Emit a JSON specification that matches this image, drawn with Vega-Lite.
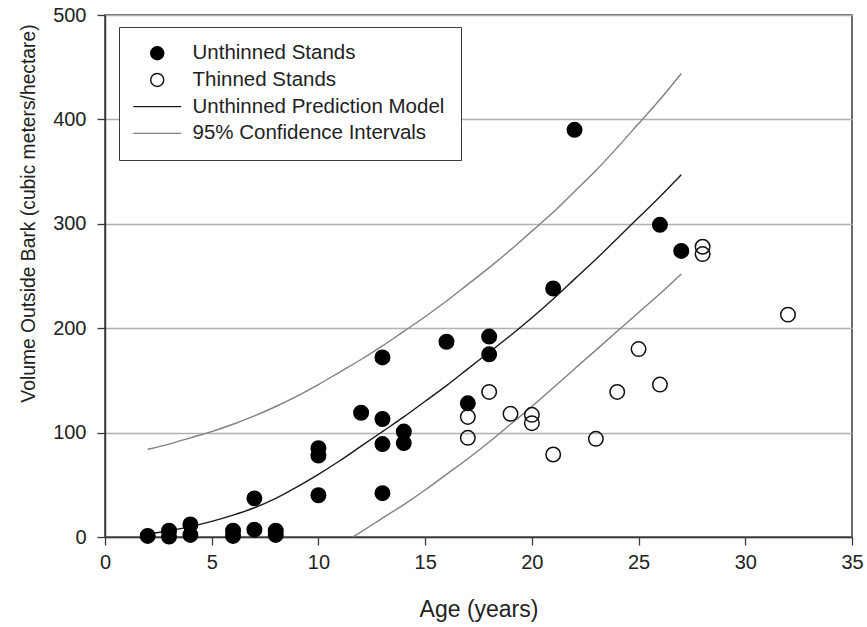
{
  "$schema": "https://vega.github.io/schema/vega-lite/v6.json",
  "width": 747,
  "height": 522,
  "autosize": {"type": "none"},
  "padding": {"left": 105, "top": 15, "right": 15, "bottom": 90},
  "background": "white",
  "config": {
    "font": "Liberation Sans",
    "view": {"stroke": "#3a3a3a", "strokeWidth": 1.5},
    "axis": {
      "domainColor": "#3a3a3a",
      "domainWidth": 1.5,
      "tickColor": "#3a3a3a",
      "tickWidth": 1.3,
      "tickSize": 8,
      "labelFontSize": 20,
      "labelColor": "#222222",
      "titleFontWeight": "normal",
      "titleColor": "#222222",
      "labelFlush": false
    },
    "legend": {
      "orient": "none",
      "legendX": 14,
      "legendY": 12,
      "padding": 16,
      "rowPadding": 5.7,
      "strokeColor": "#3a3a3a",
      "fillColor": "white",
      "labelFontSize": 20.5,
      "labelColor": "#222222",
      "labelLimit": 400,
      "symbolSize": 169,
      "symbolStrokeWidth": 1.4,
      "symbolOffset": 12,
      "labelOffset": 25,
      "symbolOpacity": 1
    }
  },
  "datasets": {
    "points": [
      {"age": 2, "vol": 1, "series": "Unthinned Stands"},
      {"age": 3, "vol": 6, "series": "Unthinned Stands"},
      {"age": 3, "vol": 0.5, "series": "Unthinned Stands"},
      {"age": 4, "vol": 12, "series": "Unthinned Stands"},
      {"age": 4, "vol": 2, "series": "Unthinned Stands"},
      {"age": 6, "vol": 6, "series": "Unthinned Stands"},
      {"age": 6, "vol": 1, "series": "Unthinned Stands"},
      {"age": 7, "vol": 37, "series": "Unthinned Stands"},
      {"age": 7, "vol": 7, "series": "Unthinned Stands"},
      {"age": 8, "vol": 6, "series": "Unthinned Stands"},
      {"age": 8, "vol": 2, "series": "Unthinned Stands"},
      {"age": 10, "vol": 85, "series": "Unthinned Stands"},
      {"age": 10, "vol": 78, "series": "Unthinned Stands"},
      {"age": 10, "vol": 40, "series": "Unthinned Stands"},
      {"age": 12, "vol": 119, "series": "Unthinned Stands"},
      {"age": 13, "vol": 172, "series": "Unthinned Stands"},
      {"age": 13, "vol": 113, "series": "Unthinned Stands"},
      {"age": 13, "vol": 89, "series": "Unthinned Stands"},
      {"age": 13, "vol": 42, "series": "Unthinned Stands"},
      {"age": 14, "vol": 101, "series": "Unthinned Stands"},
      {"age": 14, "vol": 90, "series": "Unthinned Stands"},
      {"age": 16, "vol": 187, "series": "Unthinned Stands"},
      {"age": 17, "vol": 128, "series": "Unthinned Stands"},
      {"age": 18, "vol": 192, "series": "Unthinned Stands"},
      {"age": 18, "vol": 175, "series": "Unthinned Stands"},
      {"age": 21, "vol": 238, "series": "Unthinned Stands"},
      {"age": 22, "vol": 390, "series": "Unthinned Stands"},
      {"age": 26, "vol": 299, "series": "Unthinned Stands"},
      {"age": 27, "vol": 274, "series": "Unthinned Stands"},
      {"age": 17, "vol": 115, "series": "Thinned Stands"},
      {"age": 17, "vol": 95, "series": "Thinned Stands"},
      {"age": 18, "vol": 139, "series": "Thinned Stands"},
      {"age": 19, "vol": 118, "series": "Thinned Stands"},
      {"age": 20, "vol": 117, "series": "Thinned Stands"},
      {"age": 20, "vol": 109, "series": "Thinned Stands"},
      {"age": 21, "vol": 79, "series": "Thinned Stands"},
      {"age": 23, "vol": 94, "series": "Thinned Stands"},
      {"age": 24, "vol": 139, "series": "Thinned Stands"},
      {"age": 25, "vol": 180, "series": "Thinned Stands"},
      {"age": 26, "vol": 146, "series": "Thinned Stands"},
      {"age": 28, "vol": 278, "series": "Thinned Stands"},
      {"age": 28, "vol": 271, "series": "Thinned Stands"},
      {"age": 32, "vol": 213, "series": "Thinned Stands"}
    ],
    "curves": [
      {"age": 2, "vol": 3, "curve": "pred", "series": "Unthinned Prediction Model"},
      {"age": 3, "vol": 6, "curve": "pred", "series": "Unthinned Prediction Model"},
      {"age": 4, "vol": 10, "curve": "pred", "series": "Unthinned Prediction Model"},
      {"age": 5, "vol": 15, "curve": "pred", "series": "Unthinned Prediction Model"},
      {"age": 6, "vol": 21, "curve": "pred", "series": "Unthinned Prediction Model"},
      {"age": 7, "vol": 28, "curve": "pred", "series": "Unthinned Prediction Model"},
      {"age": 8, "vol": 37, "curve": "pred", "series": "Unthinned Prediction Model"},
      {"age": 9, "vol": 48, "curve": "pred", "series": "Unthinned Prediction Model"},
      {"age": 10, "vol": 60, "curve": "pred", "series": "Unthinned Prediction Model"},
      {"age": 11, "vol": 73, "curve": "pred", "series": "Unthinned Prediction Model"},
      {"age": 12, "vol": 87, "curve": "pred", "series": "Unthinned Prediction Model"},
      {"age": 13, "vol": 101, "curve": "pred", "series": "Unthinned Prediction Model"},
      {"age": 14, "vol": 115, "curve": "pred", "series": "Unthinned Prediction Model"},
      {"age": 15, "vol": 130, "curve": "pred", "series": "Unthinned Prediction Model"},
      {"age": 16, "vol": 145, "curve": "pred", "series": "Unthinned Prediction Model"},
      {"age": 17, "vol": 161, "curve": "pred", "series": "Unthinned Prediction Model"},
      {"age": 18, "vol": 177, "curve": "pred", "series": "Unthinned Prediction Model"},
      {"age": 19, "vol": 193, "curve": "pred", "series": "Unthinned Prediction Model"},
      {"age": 20, "vol": 210, "curve": "pred", "series": "Unthinned Prediction Model"},
      {"age": 21, "vol": 228, "curve": "pred", "series": "Unthinned Prediction Model"},
      {"age": 22, "vol": 247, "curve": "pred", "series": "Unthinned Prediction Model"},
      {"age": 23, "vol": 266, "curve": "pred", "series": "Unthinned Prediction Model"},
      {"age": 24, "vol": 286, "curve": "pred", "series": "Unthinned Prediction Model"},
      {"age": 25, "vol": 306, "curve": "pred", "series": "Unthinned Prediction Model"},
      {"age": 26, "vol": 326, "curve": "pred", "series": "Unthinned Prediction Model"},
      {"age": 27, "vol": 347, "curve": "pred", "series": "Unthinned Prediction Model"},
      {"age": 2, "vol": 84, "curve": "upper", "series": "95% Confidence Intervals"},
      {"age": 3, "vol": 89, "curve": "upper", "series": "95% Confidence Intervals"},
      {"age": 4, "vol": 95, "curve": "upper", "series": "95% Confidence Intervals"},
      {"age": 5, "vol": 101, "curve": "upper", "series": "95% Confidence Intervals"},
      {"age": 6, "vol": 108, "curve": "upper", "series": "95% Confidence Intervals"},
      {"age": 7, "vol": 116, "curve": "upper", "series": "95% Confidence Intervals"},
      {"age": 8, "vol": 125, "curve": "upper", "series": "95% Confidence Intervals"},
      {"age": 9, "vol": 135, "curve": "upper", "series": "95% Confidence Intervals"},
      {"age": 10, "vol": 146, "curve": "upper", "series": "95% Confidence Intervals"},
      {"age": 11, "vol": 158, "curve": "upper", "series": "95% Confidence Intervals"},
      {"age": 12, "vol": 170, "curve": "upper", "series": "95% Confidence Intervals"},
      {"age": 13, "vol": 183, "curve": "upper", "series": "95% Confidence Intervals"},
      {"age": 14, "vol": 197, "curve": "upper", "series": "95% Confidence Intervals"},
      {"age": 15, "vol": 211, "curve": "upper", "series": "95% Confidence Intervals"},
      {"age": 16, "vol": 226, "curve": "upper", "series": "95% Confidence Intervals"},
      {"age": 17, "vol": 242, "curve": "upper", "series": "95% Confidence Intervals"},
      {"age": 18, "vol": 258, "curve": "upper", "series": "95% Confidence Intervals"},
      {"age": 19, "vol": 275, "curve": "upper", "series": "95% Confidence Intervals"},
      {"age": 20, "vol": 293, "curve": "upper", "series": "95% Confidence Intervals"},
      {"age": 21, "vol": 311, "curve": "upper", "series": "95% Confidence Intervals"},
      {"age": 22, "vol": 331, "curve": "upper", "series": "95% Confidence Intervals"},
      {"age": 23, "vol": 351, "curve": "upper", "series": "95% Confidence Intervals"},
      {"age": 24, "vol": 373, "curve": "upper", "series": "95% Confidence Intervals"},
      {"age": 25, "vol": 396, "curve": "upper", "series": "95% Confidence Intervals"},
      {"age": 26, "vol": 419, "curve": "upper", "series": "95% Confidence Intervals"},
      {"age": 27, "vol": 444, "curve": "upper", "series": "95% Confidence Intervals"},
      {"age": 11.6, "vol": 0, "curve": "lower", "series": "95% Confidence Intervals"},
      {"age": 12, "vol": 5, "curve": "lower", "series": "95% Confidence Intervals"},
      {"age": 13, "vol": 18, "curve": "lower", "series": "95% Confidence Intervals"},
      {"age": 14, "vol": 31, "curve": "lower", "series": "95% Confidence Intervals"},
      {"age": 15, "vol": 45, "curve": "lower", "series": "95% Confidence Intervals"},
      {"age": 16, "vol": 60, "curve": "lower", "series": "95% Confidence Intervals"},
      {"age": 17, "vol": 75, "curve": "lower", "series": "95% Confidence Intervals"},
      {"age": 18, "vol": 91, "curve": "lower", "series": "95% Confidence Intervals"},
      {"age": 19, "vol": 108, "curve": "lower", "series": "95% Confidence Intervals"},
      {"age": 20, "vol": 125, "curve": "lower", "series": "95% Confidence Intervals"},
      {"age": 21, "vol": 143, "curve": "lower", "series": "95% Confidence Intervals"},
      {"age": 22, "vol": 161, "curve": "lower", "series": "95% Confidence Intervals"},
      {"age": 23, "vol": 179, "curve": "lower", "series": "95% Confidence Intervals"},
      {"age": 24, "vol": 197, "curve": "lower", "series": "95% Confidence Intervals"},
      {"age": 25, "vol": 215, "curve": "lower", "series": "95% Confidence Intervals"},
      {"age": 26, "vol": 233, "curve": "lower", "series": "95% Confidence Intervals"},
      {"age": 27, "vol": 252, "curve": "lower", "series": "95% Confidence Intervals"}
    ]
  },
  "encoding": {
    "x": {
      "field": "age",
      "type": "quantitative",
      "scale": {"domain": [0, 35], "nice": false, "zero": false},
      "axis": {
        "title": "Age (years)",
        "titleFontSize": 23,
        "values": [0, 5, 10, 15, 20, 25, 30, 35],
        "grid": false,
        "labelPadding": 7,
        "titlePadding": 26
      }
    },
    "y": {
      "field": "vol",
      "type": "quantitative",
      "scale": {"domain": [0, 500], "nice": false},
      "axis": {
        "title": "Volume Outside Bark (cubic meters/hectare)",
        "titleFontSize": 19.3,
        "values": [0, 100, 200, 300, 400, 500],
        "grid": true,
        "gridColor": "#b0b0b0",
        "gridWidth": 1.3,
        "labelPadding": 11,
        "titleX": -67,
        "titleY": 198
      }
    }
  },
  "layer": [
    {
      "data": {"name": "curves"},
      "mark": {"type": "line", "strokeWidth": 1.4, "interpolate": "monotone"},
      "encoding": {
        "detail": {"field": "curve", "type": "nominal"},
        "stroke": {
          "field": "series",
          "type": "nominal",
          "scale": {
            "domain": ["Unthinned Stands", "Thinned Stands", "Unthinned Prediction Model", "95% Confidence Intervals"],
            "range": ["#000000", "#111111", "#1a1a1a", "#808080"]
          },
          "legend": {
            "title": null,
            "encode": {
              "symbols": {
                "update": {
                  "size": {"signal": "indexof(['Unthinned Prediction Model','95% Confidence Intervals'], datum.value) >= 0 ? 2304 : 169"}
                }
              }
            }
          }
        }
      }
    },
    {
      "data": {"name": "points"},
      "mark": {"type": "point", "size": 210, "strokeWidth": 1.5, "opacity": 1},
      "encoding": {
        "shape": {
          "field": "series",
          "type": "nominal",
          "scale": {
            "domain": ["Unthinned Stands", "Thinned Stands", "Unthinned Prediction Model", "95% Confidence Intervals"],
            "range": ["circle", "circle", "stroke", "stroke"]
          },
          "legend": {
            "title": null,
            "encode": {
              "symbols": {
                "update": {
                  "size": {"signal": "indexof(['Unthinned Prediction Model','95% Confidence Intervals'], datum.value) >= 0 ? 2304 : 169"}
                }
              }
            }
          }
        },
        "fill": {
          "field": "series",
          "type": "nominal",
          "scale": {
            "domain": ["Unthinned Stands", "Thinned Stands", "Unthinned Prediction Model", "95% Confidence Intervals"],
            "range": ["#000000", "transparent", "transparent", "transparent"]
          },
          "legend": {
            "title": null,
            "encode": {
              "symbols": {
                "update": {
                  "size": {"signal": "indexof(['Unthinned Prediction Model','95% Confidence Intervals'], datum.value) >= 0 ? 2304 : 169"}
                }
              }
            }
          }
        },
        "stroke": {
          "field": "series",
          "type": "nominal",
          "scale": {
            "domain": ["Unthinned Stands", "Thinned Stands", "Unthinned Prediction Model", "95% Confidence Intervals"],
            "range": ["#000000", "#111111", "#1a1a1a", "#808080"]
          },
          "legend": {
            "title": null,
            "encode": {
              "symbols": {
                "update": {
                  "size": {"signal": "indexof(['Unthinned Prediction Model','95% Confidence Intervals'], datum.value) >= 0 ? 2304 : 169"}
                }
              }
            }
          }
        }
      }
    }
  ]
}
